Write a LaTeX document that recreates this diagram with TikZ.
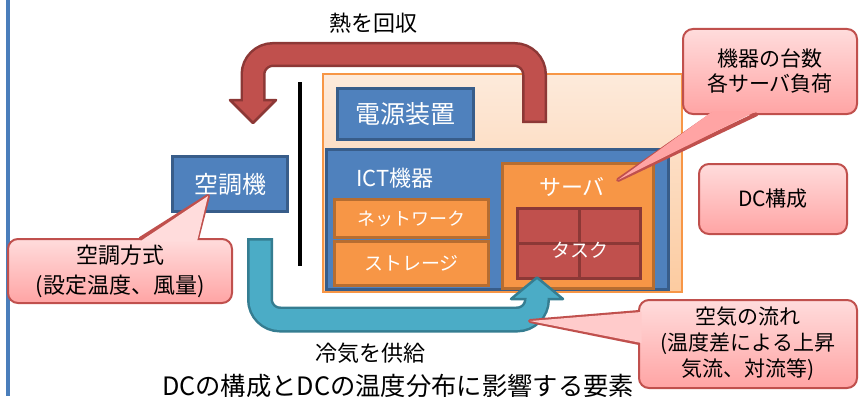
\documentclass[tikz,border=0pt]{standalone}
\usepackage{fontspec}
\newfontfamily\jp{Noto Sans CJK JP}
\newcommand\jpfs[2]{\jp\fontsize{#1}{#2}\selectfont}
\definecolor{bfill}{HTML}{4F81BD}
\definecolor{bline}{HTML}{385D8A}
\definecolor{ofill}{HTML}{F79646}
\definecolor{oline}{HTML}{B66D31}
\definecolor{rfill}{HTML}{C0504D}
\definecolor{rline}{HTML}{8C3836}
\definecolor{tfill}{HTML}{4BACC6}
\definecolor{tline}{HTML}{357D91}
\definecolor{ctop}{HTML}{FFDCDC}
\definecolor{cbot}{HTML}{FFA4A4}
\definecolor{cline}{HTML}{C0504D}
\definecolor{dctop}{HTML}{FDEADB}
\definecolor{dcbot}{HTML}{FCCBA0}
\definecolor{leftblue}{HTML}{4A7EBB}
\begin{document}
\begin{tikzpicture}[x=1pt,y=-1pt,
  bluebox/.style={draw=bline, fill=bfill, line width=3pt, text=white, inner sep=0pt},
  orbox/.style={draw=oline, fill=ofill, line width=3pt, text=white, inner sep=0pt},
  taskbox/.style={draw=rline, fill=rfill, line width=3pt, inner sep=0pt},
  dcbox/.style={draw=ofill, line width=2pt, top color=dctop, bottom color=dcbot, inner sep=0pt},
  callout/.style={draw=cline, line width=2pt, rounded corners=10pt, top color=ctop, bottom color=cbot, align=center, text=black, inner sep=0pt},
  ptr/.style={cline, line width=4pt, line join=round},
  lbl/.style={inner sep=0pt, text=black}
]
\useasboundingbox (0,0) rectangle (861,396);
\fill[white] (0,0) rectangle (861,396);
% left rule
\coordinate (lt) at (8,0);
\coordinate (lb) at (8,396);
\draw[leftblue, line width=3.5pt] (lt) -- (lb);

% DC enclosure
\node[dcbox, minimum width=359pt, minimum height=218pt] (dc) at (502.5,183) {};
% separator line
\coordinate (st) at (300,82);
\coordinate (sb) at (300,266);
\draw[black, line width=4pt] (st) -- (sb);

% power supply
\node[bluebox, minimum width=136pt, minimum height=51pt, font=\jpfs{25}{30}] (ps) at (405.5,114) {電源装置};
% ICT equipment
\node[bluebox, minimum width=342pt, minimum height=140pt] (ict) at (497.5,219.5) {};
\node[lbl, text=white, font=\jpfs{22}{26}] (ictl) at (395,178) {ICT機器};
\node[orbox, minimum width=154pt, minimum height=38pt, font=\jpfs{18}{22}] (net) at (411.5,218.5) {ネットワーク};
\node[orbox, minimum width=154pt, minimum height=44pt, font=\jpfs{19}{23}] (stor) at (411.5,263.5) {ストレージ};
\node[orbox, minimum width=151pt, minimum height=125pt] (srv) at (578,226) {};
\node[lbl, text=white, font=\jpfs{22}{26}] (srvl) at (572,187) {サーバ};
\node[taskbox, minimum width=123pt, minimum height=70pt] (task) at (579,243.5) {};
\draw[rline, line width=3pt] (task.north) -- (task.south);
\draw[rline, line width=3pt] (task.west) -- (task.east);
\node[lbl, text=white, font=\jpfs{19}{23}] (taskl) at (580,250) {タスク};

% air conditioner
\node[bluebox, minimum width=115pt, minimum height=55pt, font=\jpfs{24}{28}] (ac) at (230,184) {空調機};

% red return arrow
\coordinate (ra) at (534.5,123);
\coordinate (rb) at (534.5,54.5);
\coordinate (rc) at (253,54.5);
\coordinate (rd) at (253,100);
\draw[rline, line width=25pt, rounded corners=20pt] (ra) -- (rb) -- (rc) -- (rd);
\filldraw[fill=rfill, draw=rline, line width=2.5pt, line join=round] (230,100) -- (276,100) -- (253,123) -- cycle;
\draw[rfill, line width=20pt, rounded corners=20pt] (534.5,120.5) -- (rb) -- (rc) -- (253,102);

% blue supply arrow
\coordinate (ba) at (260,238);
\coordinate (bb) at (260,319.5);
\coordinate (bc) at (537,319.5);
\coordinate (bd) at (537,299);
\draw[tline, line width=26pt, rounded corners=20pt] (ba) -- (bb) -- (bc) -- (bd);
\filldraw[fill=tfill, draw=tline, line width=2.5pt, line join=round] (511,299) -- (563,299) -- (537,277.5) -- cycle;
\draw[tfill, line width=21pt, rounded corners=20pt] (260,240.5) -- (bb) -- (bc) -- (537,297);

% labels
\node[lbl, font=\jpfs{22}{26}] (heat) at (373,23) {熱を回収};
\node[lbl, font=\jpfs{22}{26}] (cool) at (370,353) {冷気を供給};
\node[lbl, font=\jpfs{25.3}{30}] (title) at (398,386) {DCの構成とDCの温度分布に影響する要素};

% callout: equipment count
\node[callout, minimum width=174pt, minimum height=85pt, font=\jpfs{21}{25}] (kiki) at (770,71.5) {機器の台数\\各サーバ負荷};
\coordinate (ktip) at (618,180);
\draw[ptr] (713,114) -- (ktip) -- (757,114);
\fill[cbot] (713,111) -- (ktip) -- (757,111) -- cycle;

% callout: DC config
\node[callout, minimum width=148pt, minimum height=70pt, font=\jpfs{21}{25}] (dcc) at (773,199) {DC構成};

% callout: AC method
\node[callout, minimum width=224pt, minimum height=64pt, font=\jpfs{22}{30}] (kucho) at (120,271) {空調方式\\(設定温度、風量)};
\coordinate (utip) at (208,196);
\draw[ptr] (140,239) -- (utip) -- (197,239);
\fill[ctop] (140,241.5) -- (utip) -- (197,241.5) -- cycle;

% callout: air flow
\node[callout, minimum width=218pt, minimum height=88pt, font=\jpfs{21}{26}] (kuki) at (748,344) {空気の流れ\\(温度差による上昇\\気流、対流等)};
\coordinate (atip) at (530,321);
\draw[ptr] (639,312) -- (atip) -- (639,343);
\fill[ctop!70!cbot] (641.5,312) -- (atip) -- (641.5,343) -- cycle;
\end{tikzpicture}
\end{document}
